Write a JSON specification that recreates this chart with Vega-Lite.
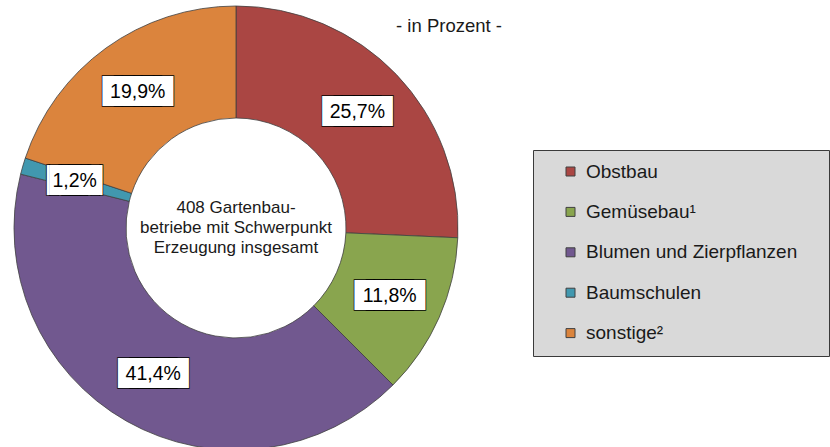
{
  "$schema": "https://vega.github.io/schema/vega-lite/v6.json",
  "width": 472,
  "height": 456,
  "autosize": {"type": "none"},
  "padding": {"left": 0, "top": 0, "right": 358, "bottom": 0},
  "background": "white",
  "title": {
    "text": "- in Prozent -",
    "orient": "top",
    "anchor": "middle",
    "frame": "group",
    "offset": 0,
    "dx": 213,
    "dy": 44,
    "baseline": "middle",
    "font": "Liberation Sans",
    "fontSize": 18.5,
    "fontWeight": "normal",
    "color": "#1a1a1a"
  },
  "data": {
    "values": [
      {"Kategorie": "Obstbau", "Anteil": 25.7, "Beschriftung": "25,7%", "Reihenfolge": 1},
      {"Kategorie": "Gemüsebau¹", "Anteil": 11.8, "Beschriftung": "11,8%", "Reihenfolge": 2},
      {"Kategorie": "Blumen und Zierpflanzen", "Anteil": 41.4, "Beschriftung": "41,4%", "Reihenfolge": 3},
      {"Kategorie": "Baumschulen", "Anteil": 1.2, "Beschriftung": "1,2%", "Reihenfolge": 4},
      {"Kategorie": "sonstige²", "Anteil": 19.9, "Beschriftung": "19,9%", "Reihenfolge": 5}
    ]
  },
  "layer": [
    {
      "mark": {"type": "arc", "innerRadius": 110, "outerRadius": 222, "stroke": "#404040", "strokeWidth": 0.8},
      "encoding": {
        "theta": {"field": "Anteil", "type": "quantitative", "stack": true},
        "order": {"field": "Reihenfolge", "type": "quantitative"},
        "color": {
          "field": "Kategorie",
          "type": "nominal",
          "scale": {
            "domain": ["Obstbau", "Gemüsebau¹", "Blumen und Zierpflanzen", "Baumschulen", "sonstige²"],
            "range": ["#AA4643", "#89A54E", "#71588F", "#4198AF", "#DB843D"]
          },
          "legend": {
            "title": null,
            "orient": "none",
            "legendX": 533,
            "legendY": 150,
            "fillColor": "#d9d9d9",
            "strokeColor": "#3a3a3a",
            "padding": 12,
            "symbolType": "square",
            "symbolSize": 81,
            "symbolStrokeWidth": 1,
            "symbolStrokeColor": "#404040",
            "symbolOffset": 16,
            "labelOffset": 6,
            "labelFont": "Liberation Sans",
            "labelFontSize": 19,
            "labelColor": "#1a1a1a",
            "labelLimit": 400,
            "rowPadding": 20.4,
            "labelExpr": "datum.label + '\u00a0\u2800'"
          }
        }
      }
    },
    {
      "mark": {"type": "text", "radius": 168, "dx": -6, "font": "DejaVu Sans", "fontSize": 25.3, "fill": "white", "stroke": "black", "strokeWidth": 1.5, "align": "center", "baseline": "middle"},
      "encoding": {
        "theta": {"field": "Anteil", "type": "quantitative", "stack": true},
        "order": {"field": "Reihenfolge", "type": "quantitative"},
        "text": {"condition": {"test": "datum.Anteil < 5", "value": "▕██▏"}, "value": "███"}
      }
    },
    {
      "mark": {"type": "text", "radius": 168, "dx": 6, "font": "DejaVu Sans", "fontSize": 25.3, "fill": "white", "stroke": "black", "strokeWidth": 1.5, "align": "center", "baseline": "middle"},
      "encoding": {
        "theta": {"field": "Anteil", "type": "quantitative", "stack": true},
        "order": {"field": "Reihenfolge", "type": "quantitative"},
        "text": {"condition": {"test": "datum.Anteil < 5", "value": "▕██▏"}, "value": "███"}
      }
    },
    {
      "mark": {"type": "text", "radius": 168, "dx": -6, "font": "DejaVu Sans", "fontSize": 25.3, "fill": "white", "align": "center", "baseline": "middle"},
      "encoding": {
        "theta": {"field": "Anteil", "type": "quantitative", "stack": true},
        "order": {"field": "Reihenfolge", "type": "quantitative"},
        "text": {"condition": {"test": "datum.Anteil < 5", "value": "▕██▏"}, "value": "███"}
      }
    },
    {
      "mark": {"type": "text", "radius": 168, "dx": 6, "font": "DejaVu Sans", "fontSize": 25.3, "fill": "white", "align": "center", "baseline": "middle"},
      "encoding": {
        "theta": {"field": "Anteil", "type": "quantitative", "stack": true},
        "order": {"field": "Reihenfolge", "type": "quantitative"},
        "text": {"condition": {"test": "datum.Anteil < 5", "value": "▕██▏"}, "value": "███"}
      }
    },
    {
      "mark": {"type": "text", "radius": 168, "font": "Liberation Sans", "fontSize": 19.5, "fill": "black", "align": "center", "baseline": "middle"},
      "encoding": {
        "theta": {"field": "Anteil", "type": "quantitative", "stack": true},
        "order": {"field": "Reihenfolge", "type": "quantitative"},
        "text": {"field": "Beschriftung"}
      }
    },
    {
      "data": {"values": [{"Mitte": "408 Gartenbau-\nbetriebe mit Schwerpunkt\nErzeugung insgesamt"}]},
      "mark": {"type": "text", "font": "Liberation Sans", "fontSize": 17, "lineHeight": 20, "lineBreak": "\n", "dy": -20, "fill": "#1a1a1a", "align": "center", "baseline": "middle"},
      "encoding": {"text": {"field": "Mitte"}}
    }
  ]
}
